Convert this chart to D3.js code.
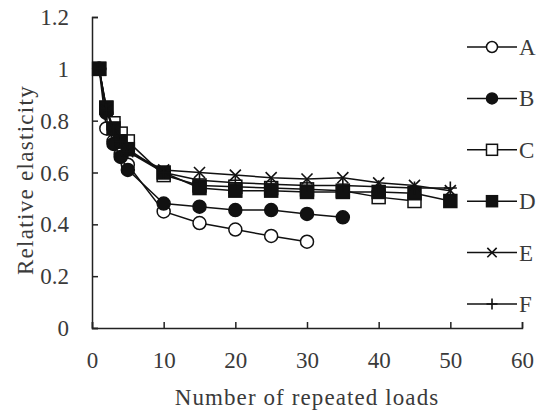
<!DOCTYPE html>
<html>
<head>
<meta charset="utf-8">
<script src="https://cdn.jsdelivr.net/npm/d3@7.9.0/dist/d3.min.js"></script>
<style>
  body { margin: 0; background: #fff; }
  svg text { font-family: "Liberation Serif", "DejaVu Serif", serif; fill: #3a3a3a; }
</style>
</head>
<body>
<div id="chart"></div>
<script>
// load counts (x) and relative elasticity per series
const loads = [1, 2, 3, 4, 5, 10, 15, 20, 25, 30, 35, 40, 45, 50];
const seriesA = [1, 0.77, 0.72, 0.67, 0.63, 0.45, 0.405, 0.38, 0.355, 0.333];
const seriesB = [1, 0.83, 0.71, 0.66, 0.61, 0.48, 0.468, 0.455, 0.455, 0.44, 0.427];
const seriesC = [1, 0.85, 0.79, 0.75, 0.72, 0.59, 0.55, 0.545, 0.54, 0.535, 0.53, 0.505, 0.49];
const seriesD = [1, 0.85, 0.77, 0.72, 0.69, 0.60, 0.54, 0.53, 0.53, 0.525, 0.525, 0.525, 0.52, 0.49];
const seriesE = [1, 0.84, 0.77, 0.72, 0.68, 0.61, 0.60, 0.59, 0.58, 0.575, 0.58, 0.56, 0.55, 0.53];
const seriesF = [1, 0.84, 0.76, 0.72, 0.68, 0.60, 0.57, 0.56, 0.555, 0.55, 0.55, 0.545, 0.54, 0.54];
const names = ['A', 'B', 'C', 'D', 'E', 'F'];
const markers = ['openCircle', 'circle', 'openSquare', 'square', 'cross', 'plus'];
const xTicks = [0, 10, 20, 30, 40, 50, 60];
const yTicks = [0, 0.2, 0.4, 0.6, 0.8, 1, 1.2];

const width = 546, height = 417;
const margin = { top: 17, right: 24, bottom: 89, left: 92 };
const fontSize = 23;

const svg = d3.select('#chart').append('svg')
  .attr('width', width).attr('height', height);

const x = d3.scaleLinear().domain([0, 60]).range([margin.left, width - margin.right]);
const y = d3.scaleLinear().domain([0, 1.2]).range([height - margin.bottom, margin.top]);

const all = [seriesA, seriesB, seriesC, seriesD, seriesE, seriesF].map((vals, i) => ({
  name: names[i],
  marker: markers[i],
  points: vals.map((v, j) => ({ x: loads[j], y: v }))
}));

// axes, ticks pointing inward
const xAxis = svg.append('g')
  .attr('transform', `translate(0,${y(0)})`)
  .call(d3.axisBottom(x).tickValues(xTicks).tickSize(-6).tickFormat(d3.format('d')));
const yAxis = svg.append('g')
  .attr('transform', `translate(${x(0)},0)`)
  .call(d3.axisLeft(y).tickValues(yTicks).tickSize(-6).tickPadding(23).tickFormat(d => d));

[xAxis, yAxis].forEach(g => {
  g.select('.domain').attr('stroke', '#222').attr('stroke-width', 1.5);
  g.selectAll('.tick line').attr('stroke', '#222').attr('stroke-width', 1.5);
  g.selectAll('.tick text').attr('font-size', fontSize)
    .style('font-family', '"Liberation Serif", serif').attr('fill', '#3a3a3a');
});
xAxis.selectAll('.tick text').attr('y', 40).attr('dy', null);
yAxis.selectAll('.tick text').attr('dy', '0.33em');

svg.append('text')
  .attr('x', 307)
  .attr('y', 405)
  .attr('text-anchor', 'middle')
  .attr('font-size', fontSize)
  .attr('letter-spacing', 1.1)
  .text('Number of repeated loads');

svg.append('text')
  .attr('transform', `translate(33,180) rotate(-90)`)
  .attr('text-anchor', 'middle')
  .attr('font-size', fontSize)
  .attr('letter-spacing', 1.3)
  .text('Relative elasticity');

function drawMarker(g, type, cx, cy, s) {
  if (type === 'openCircle' || type === 'circle') {
    g.append('circle').attr('cx', cx).attr('cy', cy).attr('r', s)
      .attr('fill', type === 'circle' ? '#111' : '#fff')
      .attr('stroke', '#111').attr('stroke-width', 1.5);
  } else if (type === 'openSquare' || type === 'square') {
    g.append('rect').attr('x', cx - s).attr('y', cy - s).attr('width', 2 * s).attr('height', 2 * s)
      .attr('fill', type === 'square' ? '#111' : '#fff')
      .attr('stroke', '#111').attr('stroke-width', 1.5);
  } else if (type === 'cross') {
    const d = s * 0.85;
    g.append('path')
      .attr('d', `M${cx - d},${cy - d}L${cx + d},${cy + d}M${cx - d},${cy + d}L${cx + d},${cy - d}`)
      .attr('stroke', '#111').attr('stroke-width', 1.6);
  } else {
    g.append('path')
      .attr('d', `M${cx - s},${cy}L${cx + s},${cy}M${cx},${cy - s}L${cx},${cy + s}`)
      .attr('stroke', '#111').attr('stroke-width', 1.6);
  }
}

const line = d3.line().x(d => x(d.x)).y(d => y(d.y));

all.forEach(s => {
  const g = svg.append('g');
  g.append('path').datum(s.points)
    .attr('d', line).attr('fill', 'none')
    .attr('stroke', '#111').attr('stroke-width', 1.5);
  s.points.forEach(p => drawMarker(g, s.marker, x(p.x), y(p.y), 6.5));
});

// legend
const legendY = d3.scaleLinear().domain([0, 5]).range([47, 304]);
all.forEach((s, i) => {
  const ly = legendY(i);
  const g = svg.append('g');
  g.append('line').attr('x1', 467).attr('x2', 517).attr('y1', ly).attr('y2', ly)
    .attr('stroke', '#111').attr('stroke-width', 1.5);
  drawMarker(g, s.marker, 492, ly, 5.5);
  g.append('text').attr('x', 519).attr('y', ly).attr('dy', '0.35em')
    .attr('font-size', fontSize).attr('fill', '#555').text(s.name);
});
</script>
</body>
</html>
